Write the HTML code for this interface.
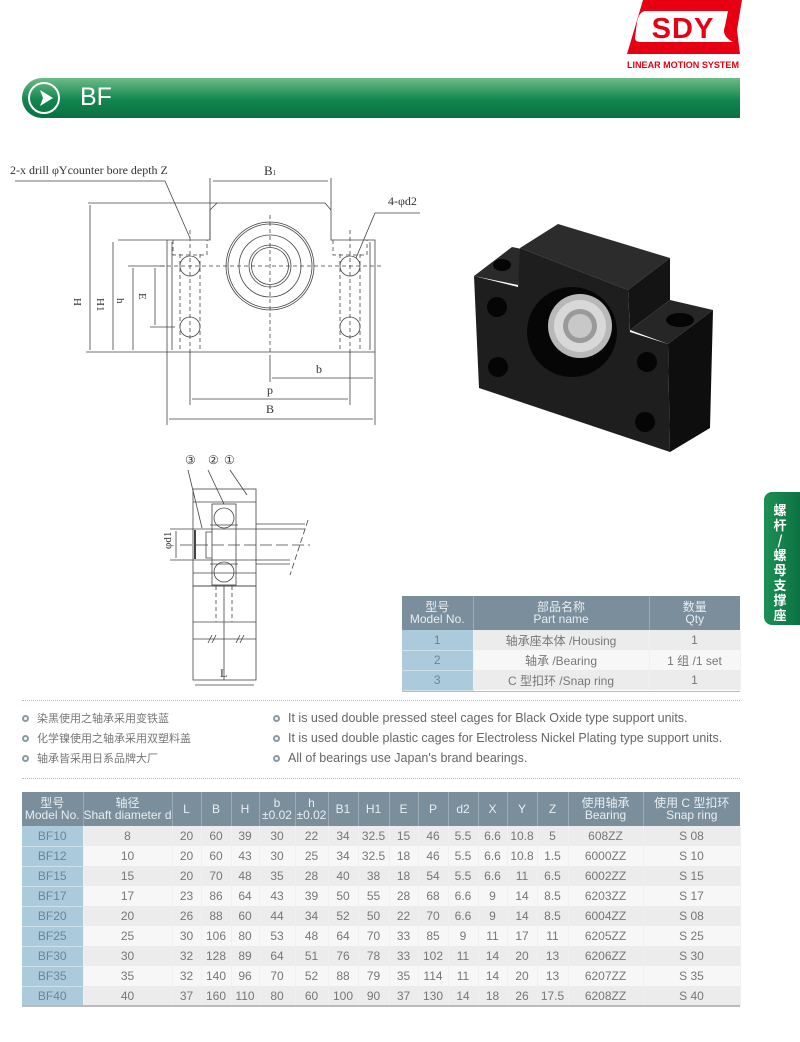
<!DOCTYPE html>
<html><head><meta charset="utf-8"><style>
*{margin:0;padding:0;box-sizing:border-box}
body{width:800px;height:1042px;background:#fff;position:relative;overflow:hidden;font-family:"Liberation Sans Narrow","Liberation Sans","Noto Sans CJK SC",sans-serif;color:#666}
.abs{position:absolute}
table{border-collapse:collapse;position:absolute;table-layout:fixed}
td,th{text-align:center;font-weight:normal;padding:0;white-space:nowrap;overflow:hidden}
.t th{background:#7a8f9b;color:#e8eef2;border-right:1px solid #9aabb5;font-size:12px;line-height:12px}
.t td{font-size:12px;color:#777;border-right:1px solid #f0f0f0}
.t tr:nth-child(even) td{background:#ececec}
.t tr:nth-child(odd) td{background:#f7f7f7}
.t td.m{background:#abcbdc!important;color:#6a8596;border-bottom:1px solid #cfe2ec}
.bul{font-size:12px;color:#666;line-height:20px}
.bul span{display:inline-block;width:7px;height:7px;border:2px solid #8a9aa4;border-radius:50%;margin-right:8px;vertical-align:0}
</style></head><body>

<!-- logo -->
<svg class="abs" style="left:615px;top:0" width="135" height="72" viewBox="0 0 135 72">
<path d="M28 0 L127 0 L122 30 L125 54 L12 54 Z" fill="#e60012"/>
<path d="M30 11 Q24 12 22 22 L20 38 Q20 42 26 42 L118 42 Q106 36 110 26 L113 11 Z" fill="#fff"/>
<text x="68" y="38" font-family="Liberation Sans" font-weight="bold" font-size="29" fill="#e60012" text-anchor="middle" letter-spacing="1">SDY</text>
<text x="68" y="68" font-family="Liberation Sans Narrow,Liberation Sans" font-weight="bold" font-size="9" fill="#e60012" text-anchor="middle" textLength="112" lengthAdjust="spacingAndGlyphs">LINEAR MOTION SYSTEM</text>
</svg>

<!-- green bar -->
<div class="abs" style="left:22px;top:78px;width:718px;height:40px;border-radius:20px 0 0 20px;background:linear-gradient(#6dbb86,#12864f 55%,#0a7040)"></div>
<div class="abs" style="left:28px;top:82px;width:32px;height:32px;border:2px solid #fff;border-radius:50%"></div>
<svg class="abs" style="left:36px;top:88px" width="20" height="20"><path d="M4 2 L17 10 L4 18 L7 10 Z" fill="#fff"/></svg>
<div class="abs" style="left:80px;top:83px;font-family:'Liberation Sans';font-size:25px;color:#fff">BF</div>

<!-- side tab -->
<div class="abs" style="left:764px;top:492px;width:40px;height:133px;background:linear-gradient(90deg,#1b9156,#0c6e3f);border-radius:8px 0 0 8px;color:#fff;font-family:'Noto Sans CJK SC',sans-serif;font-weight:bold;font-size:13px;line-height:15px;text-align:center;padding:10px 8px 0 0">螺<br>杆<br>/<br>螺<br>母<br>支<br>撑<br>座</div>

<!-- main drawing -->
<svg class="abs" style="left:0;top:150px" width="440" height="290" viewBox="0 150 440 290" font-family="Liberation Mono,monospace" fill="none" stroke="#444" stroke-width="0.8">
<text x="10" y="174" font-size="12" fill="#333" stroke="none" font-family="Liberation Serif">2-x drill φYcounter bore depth Z</text>
<text x="264" y="175" font-size="13" fill="#333" stroke="none" font-family="Liberation Serif">B<tspan font-size="7">1</tspan></text>
<text x="388" y="205" font-size="12" fill="#333" stroke="none" font-family="Liberation Serif">4-φd2</text>
<polyline points="15,181 165,181 190,238"/>
<polyline points="420,213 375,213 356,258"/>
<line x1="210" y1="178" x2="210" y2="240"/><line x1="331" y1="178" x2="331" y2="210"/>
<line x1="213" y1="181" x2="328" y2="181"/>
<path d="M167 352 L167 240 L210 240 L210 210 L217 203 L325 203 L331 210 L331 240 L375 240 L375 352 Z"/>
<line x1="172" y1="242" x2="172" y2="350"/><line x1="370" y1="242" x2="370" y2="350"/>
<line x1="88" y1="203" x2="217" y2="203"/>
<line x1="118" y1="240" x2="167" y2="240"/>
<line x1="128" y1="266" x2="165" y2="266"/><line x1="150" y1="327" x2="175" y2="327"/>
<line x1="86" y1="352" x2="167" y2="352"/>
<line x1="90" y1="205" x2="90" y2="350"/><line x1="113" y1="242" x2="113" y2="350"/>
<line x1="133" y1="268" x2="133" y2="350"/><line x1="155" y1="268" x2="155" y2="325"/>
<g fill="#333" stroke="none" font-family="Liberation Serif" font-size="11"><text x="74" y="306" transform="rotate(90 78 302)">H</text><text x="97" y="306" transform="rotate(90 101 302)">H1</text><text x="117" y="306" transform="rotate(90 121 302)">h</text><text x="139" y="301" transform="rotate(90 143 297)">E</text></g>
<g stroke-dasharray="4,3"><line x1="270" y1="215" x2="270" y2="355"/><line x1="160" y1="266" x2="382" y2="266"/>
<line x1="190" y1="230" x2="190" y2="355"/><line x1="350" y1="230" x2="350" y2="355"/>
<line x1="180" y1="254" x2="180" y2="352"/><line x1="200" y1="254" x2="200" y2="352"/>
<line x1="340" y1="254" x2="340" y2="352"/><line x1="360" y1="254" x2="360" y2="352"/>
<polyline points="173,240 173,255 207,255 207,240"/><polyline points="333,240 333,255 367,255 367,240"/></g>
<circle cx="270" cy="266" r="44"/><circle cx="270" cy="266" r="42"/><circle cx="270" cy="266" r="31"/><circle cx="270" cy="266" r="21"/><circle cx="270" cy="266" r="18.5"/>
<circle cx="190" cy="266" r="10"/><circle cx="350" cy="266" r="10"/><circle cx="190" cy="327" r="10"/><circle cx="350" cy="327" r="10"/>
<line x1="190" y1="352" x2="190" y2="405"/><line x1="350" y1="352" x2="350" y2="405"/>
<line x1="167" y1="352" x2="167" y2="425"/><line x1="375" y1="352" x2="375" y2="425"/><line x1="270" y1="355" x2="270" y2="382"/>
<line x1="272" y1="378" x2="373" y2="378"/><line x1="192" y1="399" x2="348" y2="399"/><line x1="169" y1="419" x2="373" y2="419"/>
<g fill="#333" stroke="none" font-family="Liberation Serif" font-size="12"><text x="316" y="373">b</text><text x="267" y="394">p</text><text x="266" y="413">B</text></g>
</svg>

<!-- side view -->
<svg class="abs" style="left:150px;top:440px" width="170" height="250" viewBox="0 0 170 250" fill="none" stroke="#444" stroke-width="0.8">
<g font-family="Liberation Serif" font-size="12" fill="#333" stroke="none"><text x="35" y="24">③</text><text x="58" y="24">②</text><text x="74" y="24">①</text></g>
<line x1="38" y1="30" x2="52" y2="88"/><line x1="58" y1="30" x2="74" y2="64"/><line x1="80" y1="30" x2="97" y2="55"/>
<rect x="43" y="49" width="63" height="97"/>
<line x1="43" y1="62" x2="106" y2="62"/><line x1="43" y1="133" x2="106" y2="133"/>
<rect x="62" y="64" width="24" height="81"/>
<circle cx="74" cy="78" r="10"/><circle cx="74" cy="132" r="10"/>
<line x1="60" y1="85" x2="88" y2="85"/><line x1="60" y1="124" x2="88" y2="124"/>
<path d="M62 92 L56 92 L56 118 L62 118"/>
<line x1="45" y1="90" x2="45" y2="119" stroke-width="2"/>
<line x1="20" y1="89" x2="155" y2="89"/><line x1="20" y1="120" x2="140" y2="120"/>
<line x1="106" y1="84" x2="155" y2="84"/><line x1="106" y1="124" x2="140" y2="124"/>
<line x1="26" y1="91" x2="26" y2="118"/>
<line x1="30" y1="105" x2="160" y2="105" stroke-dasharray="12,4"/>
<line x1="158" y1="80" x2="140" y2="135" stroke-dasharray="6,3"/>
<text x="12" y="110" font-family="Liberation Serif" font-size="11" fill="#333" stroke="none" transform="rotate(-90 16 105)">φd1</text>
<rect x="43" y="146" width="63" height="94"/>
<line x1="43" y1="182" x2="106" y2="182"/><line x1="43" y1="199" x2="106" y2="199"/>
<line x1="66" y1="146" x2="66" y2="182" stroke-dasharray="4,3"/><line x1="82" y1="146" x2="82" y2="182" stroke-dasharray="4,3"/>
<line x1="74" y1="146" x2="74" y2="240"/>
<line x1="58" y1="203" x2="62" y2="195"/><line x1="62" y1="203" x2="66" y2="195"/><line x1="86" y1="203" x2="90" y2="195"/><line x1="90" y1="203" x2="94" y2="195"/>
<line x1="45" y1="245" x2="104" y2="245"/>
<text x="70" y="237" font-family="Liberation Serif" font-size="12" fill="#333" stroke="none">L</text>
</svg>

<!-- photo -->
<svg class="abs" style="left:460px;top:210px" width="270" height="250" viewBox="460 210 270 250">
<path d="M520 248 L558 224 L670 258 L628 290 Z" fill="#2c2c2c"/>
<path d="M628 290 L670 258 L670 300 L630 330 Z" fill="#141414"/>
<path d="M474 276 L512 247 L522 249 L518 285 Z" fill="#2a2a2a"/>
<path d="M630 330 L670 300 L713 310 L668 344 Z" fill="#262626"/>
<path d="M668 344 L713 310 L710 428 L670 452 Z" fill="#0e0e0e"/>
<path d="M474 276 L518 287 L520 248 L628 290 L630 332 L668 344 L670 452 L479 388 Z" fill="#1e1e1e"/>
<circle cx="572" cy="332" r="45" fill="#060606"/>
<circle cx="580" cy="326" r="32" fill="#b8b8b8"/><circle cx="580" cy="326" r="26" fill="#d8d8d8"/>
<circle cx="580" cy="326" r="17" fill="#9a9a9a"/><circle cx="580" cy="326" r="12" fill="#c8c8c8"/>
<g fill="#050505"><circle cx="497" cy="307" r="10"/><circle cx="498" cy="367" r="10"/><circle cx="647" cy="362" r="10"/><circle cx="645" cy="422" r="10"/><ellipse cx="680" cy="320" rx="14" ry="7"/><ellipse cx="502" cy="265" rx="9" ry="6"/></g>
</svg>

<!-- parts table -->
<table class="t" style="left:402px;top:596px;width:338px">
<colgroup><col style="width:71px"><col style="width:176px"><col style="width:91px"></colgroup>
<tr style="height:34px"><th>型号<br>Model No.</th><th>部品名称<br>Part name</th><th style="border:0">数量<br>Qty</th></tr>
<tr style="height:20px"><td class="m">1</td><td>轴承座本体 /Housing</td><td>1</td></tr>
<tr style="height:20px"><td class="m">2</td><td>轴承 /Bearing</td><td>1 组 /1 set</td></tr>
<tr style="height:20px"><td class="m">3</td><td>C 型扣环 /Snap ring</td><td>1</td></tr>
</table>
<div class="abs" style="left:402px;top:691px;width:338px;height:1px;background:#bbb"></div>
<div class="abs" style="left:22px;top:700px;width:718px;height:1px;border-top:1px dotted #bbb"></div>
<div class="abs" style="left:22px;top:778px;width:718px;height:1px;border-top:1px dotted #bbb"></div>

<div class="abs bul" style="left:22px;top:708px;font-family:'Noto Sans CJK SC',sans-serif;font-size:11px;color:#777"><div><span></span>染黑使用之轴承采用变铁蓝</div><div><span></span>化学镍使用之轴承采用双塑料盖</div><div><span></span>轴承皆采用日系品牌大厂</div></div>
<div class="abs bul" style="left:273px;top:708px;font-family:'Liberation Sans';font-size:12.5px"><div><span></span>It is used double pressed steel cages for Black Oxide type support units.</div><div><span></span>It is used double plastic cages for Electroless Nickel Plating type support units.</div><div><span></span>All of bearings use Japan's brand bearings.</div></div>

<!-- main table -->
<table class="t" style="left:22px;top:792px;width:718px">
<colgroup><col style="width:61px"><col style="width:89px"><col style="width:29px"><col style="width:30px"><col style="width:28px"><col style="width:36px"><col style="width:33px"><col style="width:30px"><col style="width:31px"><col style="width:29px"><col style="width:30px"><col style="width:30px"><col style="width:29px"><col style="width:30px"><col style="width:31px"><col style="width:75px"><col style="width:97px"></colgroup>
<tr style="height:34px"><th>型号<br>Model No.</th><th>轴径<br>Shaft diameter d</th><th>L</th><th>B</th><th>H</th><th>b<br>±0.02</th><th>h<br>±0.02</th><th>B1</th><th>H1</th><th>E</th><th>P</th><th>d2</th><th>X</th><th>Y</th><th>Z</th><th>使用轴承<br>Bearing</th><th style="border:0">使用 C 型扣环<br>Snap ring</th></tr>
<tr style="height:20px"><td class="m">BF10</td><td>8</td><td>20</td><td>60</td><td>39</td><td>30</td><td>22</td><td>34</td><td>32.5</td><td>15</td><td>46</td><td>5.5</td><td>6.6</td><td>10.8</td><td>5</td><td>608ZZ</td><td>S 08</td></tr>
<tr style="height:20px"><td class="m">BF12</td><td>10</td><td>20</td><td>60</td><td>43</td><td>30</td><td>25</td><td>34</td><td>32.5</td><td>18</td><td>46</td><td>5.5</td><td>6.6</td><td>10.8</td><td>1.5</td><td>6000ZZ</td><td>S 10</td></tr>
<tr style="height:20px"><td class="m">BF15</td><td>15</td><td>20</td><td>70</td><td>48</td><td>35</td><td>28</td><td>40</td><td>38</td><td>18</td><td>54</td><td>5.5</td><td>6.6</td><td>11</td><td>6.5</td><td>6002ZZ</td><td>S 15</td></tr>
<tr style="height:20px"><td class="m">BF17</td><td>17</td><td>23</td><td>86</td><td>64</td><td>43</td><td>39</td><td>50</td><td>55</td><td>28</td><td>68</td><td>6.6</td><td>9</td><td>14</td><td>8.5</td><td>6203ZZ</td><td>S 17</td></tr>
<tr style="height:20px"><td class="m">BF20</td><td>20</td><td>26</td><td>88</td><td>60</td><td>44</td><td>34</td><td>52</td><td>50</td><td>22</td><td>70</td><td>6.6</td><td>9</td><td>14</td><td>8.5</td><td>6004ZZ</td><td>S 08</td></tr>
<tr style="height:20px"><td class="m">BF25</td><td>25</td><td>30</td><td>106</td><td>80</td><td>53</td><td>48</td><td>64</td><td>70</td><td>33</td><td>85</td><td>9</td><td>11</td><td>17</td><td>11</td><td>6205ZZ</td><td>S 25</td></tr>
<tr style="height:20px"><td class="m">BF30</td><td>30</td><td>32</td><td>128</td><td>89</td><td>64</td><td>51</td><td>76</td><td>78</td><td>33</td><td>102</td><td>11</td><td>14</td><td>20</td><td>13</td><td>6206ZZ</td><td>S 30</td></tr>
<tr style="height:20px"><td class="m">BF35</td><td>35</td><td>32</td><td>140</td><td>96</td><td>70</td><td>52</td><td>88</td><td>79</td><td>35</td><td>114</td><td>11</td><td>14</td><td>20</td><td>13</td><td>6207ZZ</td><td>S 35</td></tr>
<tr style="height:20px"><td class="m">BF40</td><td>40</td><td>37</td><td>160</td><td>110</td><td>80</td><td>60</td><td>100</td><td>90</td><td>37</td><td>130</td><td>14</td><td>18</td><td>26</td><td>17.5</td><td>6208ZZ</td><td>S 40</td></tr>
</table>
<div class="abs" style="left:22px;top:1005px;width:718px;height:2px;background:#bbb"></div>
</body></html>
